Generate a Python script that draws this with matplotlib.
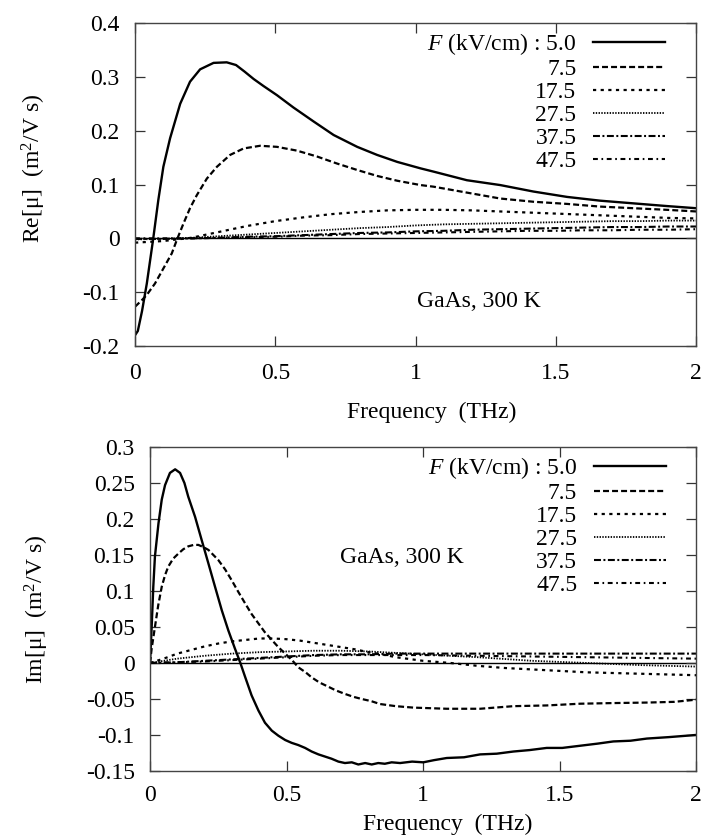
import matplotlib
matplotlib.use("Agg")
import matplotlib.pyplot as plt

plt.rcParams['font.family'] = ['Liberation Serif', 'DejaVu Serif']
plt.rcParams['mathtext.fontset'] = 'custom'
plt.rcParams['mathtext.rm'] = 'Liberation Serif'
plt.rcParams['mathtext.it'] = 'Liberation Serif:italic'
plt.rcParams['lines.scale_dashes'] = False

fields = ["5.0", "7.5", "17.5", "27.5", "37.5", "47.5"]

# ---- Re[mu] data ----
re_x_50 = [0, 0.01, 0.025, 0.042, 0.065, 0.083, 0.101, 0.125, 0.161, 0.196, 0.232, 0.28, 0.327, 0.36,
           0.39, 0.423, 0.458, 0.506, 0.565, 0.637, 0.708, 0.792, 0.863, 0.935, 1.018, 1.064, 1.183,
           1.302, 1.42, 1.54, 1.658, 1.777, 1.896, 2.0]
re_y_50 = [-0.18, -0.172, -0.135, -0.084, 0.0, 0.071, 0.133, 0.186, 0.25, 0.291, 0.314, 0.326, 0.327,
           0.322, 0.31, 0.296, 0.283, 0.266, 0.243, 0.217, 0.192, 0.170, 0.155, 0.142, 0.130, 0.124,
           0.108, 0.099, 0.087, 0.077, 0.070, 0.065, 0.060, 0.056]

re_x_75 = [0, 0.024, 0.042, 0.071, 0.101, 0.131, 0.149, 0.173, 0.196, 0.22, 0.256, 0.292, 0.339,
           0.387, 0.446, 0.506, 0.577, 0.649, 0.72, 0.792, 0.863, 0.935, 1.018, 1.064, 1.183,
           1.302, 1.42, 1.54, 1.658, 1.777, 1.896, 2.0]
re_y_75 = [-0.127, -0.115, -0.105, -0.084, -0.056, -0.028, -0.003, 0.028, 0.056, 0.080, 0.111, 0.133,
           0.155, 0.167, 0.172, 0.170, 0.163, 0.152, 0.139, 0.127, 0.116, 0.107, 0.099, 0.096,
           0.085, 0.074, 0.068, 0.064, 0.059, 0.056, 0.053, 0.050]

re_x_std = [0, 0.1, 0.2, 0.3, 0.4, 0.5, 0.6, 0.7, 0.8, 0.9, 1.0, 1.1, 1.2, 1.3, 1.4, 1.5, 1.6, 1.7,
            1.8, 1.9, 2.0]
re_y_175 = [-0.008, -0.005, 0.001, 0.012, 0.023, 0.032, 0.039, 0.045, 0.049, 0.052, 0.053, 0.053,
            0.052, 0.050, 0.048, 0.046, 0.044, 0.042, 0.040, 0.038, 0.037]
re_y_275 = [-0.002, -0.001, 0.001, 0.004, 0.007, 0.010, 0.013, 0.016, 0.019, 0.021, 0.024, 0.026,
            0.027, 0.028, 0.029, 0.030, 0.031, 0.032, 0.032, 0.033, 0.033]
re_y_375 = [-0.001, -0.001, 0.0, 0.001, 0.003, 0.004, 0.006, 0.008, 0.010, 0.011, 0.013, 0.014,
            0.016, 0.017, 0.018, 0.019, 0.020, 0.021, 0.021, 0.022, 0.022]
re_y_475 = [0.0, 0.0, 0.0, 0.001, 0.002, 0.003, 0.005, 0.006, 0.008, 0.009, 0.010, 0.011,
            0.012, 0.013, 0.014, 0.014, 0.015, 0.015, 0.016, 0.016, 0.017]

# ---- Im[mu] data ----
im_x_50 = [0, 0.006, 0.012, 0.018, 0.031, 0.043, 0.055, 0.073, 0.092, 0.11, 0.126, 0.14, 0.165,
           0.189, 0.214, 0.238, 0.263, 0.287, 0.311, 0.33, 0.348, 0.372, 0.397, 0.421, 0.446,
           0.47, 0.495, 0.519, 0.543, 0.568, 0.592, 0.617, 0.641, 0.665, 0.69, 0.714, 0.739,
           0.763, 0.788, 0.812, 0.836, 0.86, 0.885, 0.916, 0.96, 1.001, 1.04, 1.087, 1.15, 1.209,
           1.27, 1.331, 1.39, 1.453, 1.51, 1.575, 1.64, 1.697, 1.76, 1.82, 1.9, 2.0]
im_y_50 = [0.0, 0.05, 0.106, 0.148, 0.194, 0.227, 0.247, 0.264, 0.269, 0.264, 0.25, 0.231, 0.203,
           0.171, 0.138, 0.106, 0.073, 0.045, 0.020, 0.001, -0.019, -0.045, -0.066, -0.083, -0.094,
           -0.101, -0.107, -0.111, -0.114, -0.118, -0.123, -0.127, -0.130, -0.133, -0.137, -0.139,
           -0.138, -0.141, -0.139, -0.141, -0.139, -0.140, -0.138, -0.139, -0.137, -0.138, -0.135,
           -0.132, -0.131, -0.127, -0.126, -0.123, -0.121, -0.118, -0.118, -0.115, -0.112, -0.109,
           -0.108, -0.105, -0.103, -0.100]

im_x_75 = [0, 0.006, 0.018, 0.03, 0.043, 0.055, 0.067, 0.085, 0.104, 0.122, 0.14, 0.16, 0.177,
           0.195, 0.214, 0.232, 0.25, 0.275, 0.299, 0.323, 0.348, 0.372, 0.397, 0.42, 0.446, 0.47,
           0.495, 0.52, 0.543, 0.57, 0.592, 0.62, 0.653, 0.68, 0.714, 0.745, 0.775, 0.81, 0.842,
           0.9, 0.964, 1.087, 1.209, 1.331, 1.453, 1.575, 1.697, 1.82, 1.92, 2.0]
im_y_75 = [0.0, 0.02, 0.05, 0.08, 0.106, 0.122, 0.134, 0.145, 0.152, 0.158, 0.162, 0.164, 0.164,
           0.161, 0.157, 0.150, 0.143, 0.130, 0.115, 0.099, 0.083, 0.068, 0.055, 0.043, 0.032, 0.022,
           0.013, 0.004, -0.006, -0.013, -0.020, -0.027, -0.033, -0.038, -0.043, -0.047, -0.050,
           -0.053, -0.057, -0.060, -0.062, -0.0636, -0.0636, -0.060, -0.059, -0.0566, -0.0557,
           -0.055, -0.054, -0.051]

im_x_175 = [0, 0.05, 0.1, 0.15, 0.2, 0.25, 0.3, 0.35, 0.4, 0.45, 0.5, 0.55, 0.6, 0.65, 0.7, 0.75,
            0.8, 0.85, 0.9, 1.0, 1.1, 1.2, 1.3, 1.4, 1.5, 1.6, 1.7, 1.8, 1.9, 2.0]
im_y_175 = [0.0, 0.006, 0.013, 0.018, 0.023, 0.027, 0.030, 0.032, 0.034, 0.034, 0.033, 0.031,
            0.028, 0.025, 0.022, 0.019, 0.015, 0.012, 0.008, 0.003, 0.0, -0.004, -0.007, -0.009,
            -0.011, -0.013, -0.014, -0.015, -0.016, -0.017]

im_x_std = [0, 0.1, 0.2, 0.3, 0.4, 0.5, 0.6, 0.7, 0.8, 0.9, 1.0, 1.2, 1.4, 1.6, 1.8, 2.0]
im_y_275 = [0.0, 0.006, 0.010, 0.013, 0.015, 0.016, 0.017, 0.017, 0.016, 0.014, 0.012, 0.008,
            0.003, 0.0, -0.003, -0.005]
im_y_375 = [0.0, 0.001, 0.003, 0.005, 0.007, 0.009, 0.011, 0.012, 0.012, 0.013, 0.013, 0.013,
            0.013, 0.013, 0.013, 0.013]
im_y_475 = [0.0, 0.001, 0.002, 0.004, 0.006, 0.008, 0.010, 0.011, 0.011, 0.011, 0.011, 0.010,
            0.009, 0.008, 0.007, 0.006]

x_ticks = [0, 0.5, 1, 1.5, 2]
x_ticklabels = ["0", "0.5", "1", "1.5", "2"]
re_ticks = [-0.2, -0.1, 0, 0.1, 0.2, 0.3, 0.4]
re_ticklabels = ["-0.2", "-0.1", "0", "0.1", "0.2", "0.3", "0.4"]
im_ticks = [-0.15, -0.1, -0.05, 0, 0.05, 0.1, 0.15, 0.2, 0.25, 0.3]
im_ticklabels = ["-0.15", "-0.1", "-0.05", "0", "0.05", "0.1", "0.15", "0.2", "0.25", "0.3"]

styles = [
    dict(linestyle='-', linewidth=1.7),
    dict(linestyle=(0, (4.3, 2.2)), linewidth=1.6),
    dict(linestyle=(0, (2.3, 3.2)), linewidth=1.6),
    dict(linestyle=(0, (1.0, 1.0)), linewidth=1.3),
    dict(linestyle=(0, (5.0, 1.8, 1.4, 1.8)), linewidth=1.5),
    dict(linestyle=(0, (3.5, 2.6, 1.2, 2.6)), linewidth=1.5),
]

FS = 17
fig = plt.figure(figsize=(7.04, 8.38), dpi=100)
ax1 = fig.add_axes([0.1918, 0.5871, 0.7969, 0.3854])
ax2 = fig.add_axes([0.2131, 0.0800, 0.7756, 0.3866])

re_series = [(re_x_50, re_y_50), (re_x_75, re_y_75), (re_x_std, re_y_175),
             (re_x_std, re_y_275), (re_x_std, re_y_375), (re_x_std, re_y_475)]
im_series = [(im_x_50, im_y_50), (im_x_75, im_y_75), (im_x_175, im_y_175),
             (im_x_std, im_y_275), (im_x_std, im_y_375), (im_x_std, im_y_475)]

labels = ["$F$ (kV/cm) : " + fields[0]] + fields[1:]


def setup(ax, series, yticks, yticklabels, ylim, ylabel, xlab_x, ylab_y, xpad, xlabpad):
    ax.axhline(0, color='black', linewidth=1.0, zorder=1)
    handles = []
    for (xs, ys), st, lab in zip(series, styles, labels):
        h, = ax.plot(xs, ys, color='black', label=lab, zorder=2, **st)
        handles.append(h)
    ax.set_xlim(0, 2)
    ax.set_ylim(*ylim)
    ax.set_xticks(x_ticks)
    ax.set_xticklabels(x_ticklabels)
    ax.set_yticks(yticks)
    ax.set_yticklabels(yticklabels)
    ax.tick_params(direction='in', length=7.5, width=0.9, top=True, right=True,
                   labelsize=FS, colors='#333333', labelcolor='black')
    ax.tick_params(axis='x', pad=xpad)
    ax.tick_params(axis='y', pad=11)
    for s in ax.spines.values():
        s.set_color('#444444')
        s.set_linewidth(1.0)
    ax.set_xlabel("Frequency  (THz)", fontsize=FS, labelpad=xlabpad)
    ax.xaxis.label.set_x(xlab_x)
    ax.set_ylabel(ylabel, fontsize=FS, labelpad=25)
    ax.yaxis.label.set_y(ylab_y)
    leg = ax.legend(handles=handles, loc='upper right', bbox_to_anchor=(0.945, 0.975),
                    frameon=False, markerfirst=False, fontsize=FS, handlelength=3.06,
                    handletextpad=0.7, labelspacing=0.065, borderpad=0, borderaxespad=0)
    return leg


setup(ax1, re_series, re_ticks, re_ticklabels, (-0.2, 0.4), "Re[μ]  (m$^2$/V s)", 0.528, 0.55, 12, 13)
setup(ax2, im_series, im_ticks, im_ticklabels, (-0.15, 0.3), "Im[μ]  (m$^2$/V s)", 0.545, 0.5, 10, 6)

ax1.text(1.006, -0.118, "GaAs, 300 K", fontsize=FS, ha='left', va='center')
ax2.text(0.696, 0.147, "GaAs, 300 K", fontsize=FS, ha='left', va='center')

fig.savefig("out.png", dpi=100)
